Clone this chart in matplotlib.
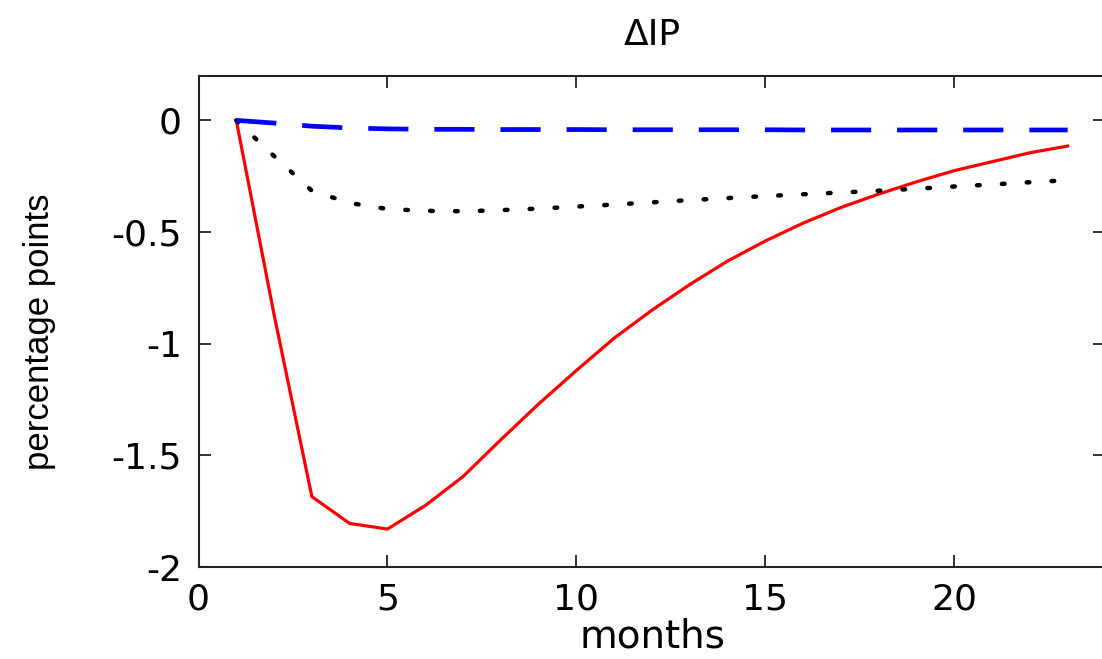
import matplotlib
matplotlib.use("Agg")
import matplotlib.pyplot as plt
import numpy as np

months = list(range(1, 24))
red_series = [0.0, -0.87, -1.685, -1.805, -1.83, -1.725, -1.595, -1.43, -1.27, -1.12,
              -0.975, -0.85, -0.735, -0.63, -0.54, -0.46, -0.39, -0.33, -0.275, -0.225,
              -0.185, -0.145, -0.115]
black_series = [0.0, -0.16, -0.315, -0.37, -0.397, -0.405, -0.407, -0.402, -0.395, -0.386,
                -0.377, -0.367, -0.357, -0.348, -0.339, -0.331, -0.323, -0.315, -0.306,
                -0.296, -0.287, -0.277, -0.268]
blue_series = [0.0, -0.012, -0.026, -0.034, -0.038, -0.04, -0.04, -0.041, -0.041, -0.041,
               -0.042, -0.042, -0.042, -0.042, -0.042, -0.043, -0.043, -0.043, -0.043,
               -0.043, -0.043, -0.043, -0.043]
xticks = [0, 5, 10, 15, 20]
yticks = [-2, -1.5, -1, -0.5, 0]
ytick_labels = ["-2", "-1.5", "-1", "-0.5", "0"]

fig = plt.figure(figsize=(11.02, 6.59), dpi=100)
ax = fig.add_axes([0.18013, 0.1396, 0.8230, 0.7455])

ax.plot(months, red_series, color="#ff0000", lw=2.3, solid_joinstyle="miter")
ax.plot(months, black_series, color="black", lw=3.2, linestyle=(0, (0.6, 5.0)),
        dash_capstyle="round")
ax.plot(months, blue_series, color="#0000ff", lw=3.4, linestyle=(0, (8.5, 5.5)))

ax.set_xlim(0, 24)
ax.set_ylim(-2, 0.2)
ax.set_xticks(xticks)
ax.set_xticklabels([str(t) for t in xticks])
ax.set_yticks(yticks)
ax.set_yticklabels(ytick_labels)

for s in ax.spines.values():
    s.set_linewidth(1.5)
    s.set_color("#222222")

ax.tick_params(direction="in", length=8.5, width=1.3, top=True, right=True,
               labelsize=26, colors="#222222", labelcolor="black")
ax.tick_params(axis="x", pad=11)
ax.tick_params(axis="y", pad=12)
for lbl in ax.get_xticklabels() + ax.get_yticklabels():
    lbl.set_family("DejaVu Sans")

ax.set_title("\u0394IP", fontsize=26, family="DejaVu Sans", pad=22)
ax.set_xlabel("months", fontsize=28, family="DejaVu Sans", labelpad=1)
ax.set_ylabel("percentage points", fontsize=25, family="Liberation Sans")
ax.yaxis.set_label_coords(-0.157, 0.478)

fig.savefig("out.png", dpi=100)
